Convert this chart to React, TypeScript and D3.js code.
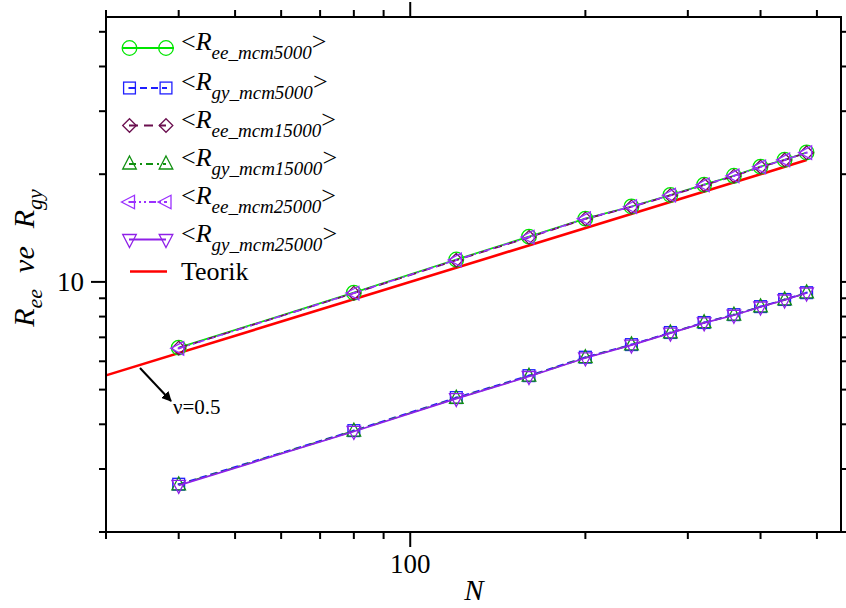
import React from "react";
import * as d3 from "d3";

// chain lengths
const chainN = [40, 80, 120, 160, 200, 240, 280, 320, 360, 400, 440, 480];

// end-to-end and gyration radii
const reeMcm5000 = [6.55, 9.33, 11.55, 13.38, 15.03, 16.25, 17.5, 18.7, 19.8, 21.0, 21.95, 23.0];
const gyMcm5000 = [2.72, 3.84, 4.75, 5.47, 6.16, 6.68, 7.22, 7.7, 8.1, 8.53, 8.93, 9.33];
const reeMcm15000 = [6.53, 9.3, 11.5, 13.32, 15.0, 16.2, 17.45, 18.65, 19.75, 20.95, 21.9, 22.95];
const gyMcm15000 = [2.71, 3.83, 4.73, 5.45, 6.14, 6.67, 7.2, 7.69, 8.08, 8.52, 8.91, 9.32];
const reeMcm25000 = [6.52, 9.31, 11.52, 13.35, 15.02, 16.22, 17.47, 18.68, 19.78, 20.97, 21.93, 22.97];
const gyMcm25000 = [2.7, 3.82, 4.72, 5.44, 6.13, 6.66, 7.19, 7.68, 8.07, 8.51, 8.9, 9.31];

// theory line nu = 0.5
const teorikN = [30, 480];
const teorikR = [5.48, 21.9];

const xTicks = [30, 40, 50, 60, 70, 80, 90, 100, 200, 300, 400, 500];
const yTicks = [2, 3, 4, 5, 6, 7, 8, 9, 10, 20, 30, 40, 50];
const xLabels = [100];
const yLabels = [10];

const series = [
  { sub: "ee_mcm5000", data: reeMcm5000, color: "#00e600", dash: null, marker: "circle" },
  { sub: "gy_mcm5000", data: gyMcm5000, color: "#1f1fff", dash: "7,4", marker: "square" },
  { sub: "ee_mcm15000", data: reeMcm15000, color: "#6b0f4f", dash: "9,6", marker: "diamond" },
  { sub: "gy_mcm15000", data: gyMcm15000, color: "#109010", dash: "7,4,2,4", marker: "up" },
  { sub: "ee_mcm25000", data: reeMcm25000, color: "#9b30ff", dash: "7,3,2,3,2,3", marker: "left" },
  { sub: "gy_mcm25000", data: gyMcm25000, color: "#8f20e8", dash: null, marker: "down" },
];

const W = 846;
const H = 608;
const L = 106, R = 841, T = 17, B = 532;
const font = "'Liberation Serif', 'Times New Roman', serif";

const Marker = ({ type, cx, cy, color }: any) => {
  const s = 6.8;
  const common = { fill: "none", stroke: color, strokeWidth: 1.3 };
  if (type === "circle") return <circle cx={cx} cy={cy} r={7.3} {...common} />;
  if (type === "square")
    return (
      <g>
        <rect x={cx - 5.9} y={cy - 5.9} width={11.8} height={11.8} {...common} />
        <rect x={cx - 1} y={cy - 1} width={2} height={2} fill={color} />
      </g>
    );
  if (type === "diamond")
    return <path d={`M${cx},${cy - s}L${cx + s},${cy}L${cx},${cy + s}L${cx - s},${cy}Z`} {...common} />;
  if (type === "up")
    return <path d={`M${cx},${cy - 8}L${cx + 6.8},${cy + 5}L${cx - 6.8},${cy + 5}Z`} {...common} />;
  if (type === "down")
    return <path d={`M${cx},${cy + 8}L${cx + 6.8},${cy - 5}L${cx - 6.8},${cy - 5}Z`} {...common} />;
  // left
  return (
    <g>
      <path d={`M${cx - 8},${cy}L${cx + 5},${cy - 6.8}L${cx + 5},${cy + 6.8}Z`} {...common} />
      <rect x={cx - 1} y={cy - 1} width={2} height={2} fill={color} />
    </g>
  );
};

export default function App() {
  const x = d3.scaleLog().domain([30, 550]).range([L, R]);
  const y = d3.scaleLog().domain([2, 55]).range([B, T]);

  const line = d3
    .line<number>()
    .x((d, i) => x(chainN[i]))
    .y((d) => y(d));

  const teorikLine = d3
    .line<number>()
    .x((d, i) => x(teorikN[i]))
    .y((d) => y(d));

  const legendY = [48, 88, 125.5, 164, 202, 239.5];

  return (
    <svg
      width={W}
      height={H}
      style={{ position: "absolute", left: 0, top: 0, background: "#fff" }}
      fontFamily={font}
    >
      {/* theory */}
      <path d={teorikLine(teorikR) || ""} fill="none" stroke="#ff0000" strokeWidth={2.6} />

      {/* data series */}
      {series.map((s) => (
        <g key={s.sub}>
          <path
            d={line(s.data) || ""}
            fill="none"
            stroke={s.color}
            strokeWidth={1.7}
            strokeDasharray={s.dash || undefined}
          />
          {s.data.map((v, i) => (
            <Marker key={i} type={s.marker} cx={x(chainN[i])} cy={y(v)} color={s.color} />
          ))}
        </g>
      ))}

      {/* frame */}
      <rect x={L} y={T} width={R - L} height={B - T} fill="none" stroke="#000" strokeWidth={2} />

      {/* x ticks bottom and top */}
      {xTicks.map((t) => {
        const major = xLabels.includes(t);
        const len = major ? 15 : 7;
        return (
          <g key={"x" + t}>
            <line x1={x(t)} x2={x(t)} y1={B} y2={B + len} stroke="#000" strokeWidth={2} />
            <line x1={x(t)} x2={x(t)} y1={T} y2={T - len} stroke="#000" strokeWidth={2} />
            {major && (
              <text x={x(t)} y={573} textAnchor="middle" fontSize={27}>
                {t}
              </text>
            )}
          </g>
        );
      })}

      {/* y ticks left and right */}
      {yTicks.map((t) => {
        const major = yLabels.includes(t);
        const len = major ? 15 : 7;
        return (
          <g key={"y" + t}>
            <line x1={L} x2={L - len} y1={y(t)} y2={y(t)} stroke="#000" strokeWidth={2} />
            <line x1={R} x2={R + len} y1={y(t)} y2={y(t)} stroke="#000" strokeWidth={2} />
            {major && (
              <text x={84} y={y(t) + 9} textAnchor="end" fontSize={27}>
                {t}
              </text>
            )}
          </g>
        );
      })}

      {/* axis titles */}
      <text x={474} y={600} textAnchor="middle" fontSize={29} fontStyle="italic">
        N
      </text>
      <text transform="translate(34,258) rotate(-90)" textAnchor="middle" fontSize={30} fontStyle="italic">
        <tspan>R</tspan>
        <tspan fontSize={22} dy={8}>ee</tspan>
        <tspan dy={-8} dx={16}>ve</tspan>
        <tspan dx={18}>R</tspan>
        <tspan fontSize={22} dy={8}>gy</tspan>
      </text>

      {/* annotation */}
      <defs>
        <marker id="arr" viewBox="0 0 10 10" refX={9} refY={5} markerWidth={5} markerHeight={5} orient="auto">
          <path d="M0,0L10,5L0,10Z" fill="#000" />
        </marker>
      </defs>
      <line x1={140} y1={368} x2={171} y2={401} stroke="#000" strokeWidth={2} markerEnd="url(#arr)" />
      <text x={173} y={414} fontSize={21}>
        ν=0.5
      </text>

      {/* legend */}
      {series.map((s, i) => {
        const cy = legendY[i];
        return (
          <g key={"lg" + s.sub}>
            <line
              x1={s.marker === "circle" ? 123 : 129}
              x2={s.marker === "circle" ? 174 : 166}
              y1={cy}
              y2={cy}
              stroke={s.color}
              strokeWidth={1.8}
              strokeDasharray={s.dash || undefined}
            />
            <Marker type={s.marker} cx={129.5} cy={cy} color={s.color} />
            <Marker type={s.marker} cx={166} cy={cy} color={s.color} />
            <text x={181} y={cy + 2} fontSize={26}>
              <tspan>&lt;</tspan>
              <tspan fontStyle="italic">R</tspan>
              <tspan fontStyle="italic" fontSize={19} dy={9}>
                {s.sub}
              </tspan>
              <tspan dy={-9}>&gt;</tspan>
            </text>
          </g>
        );
      })}
      <line x1={130} x2={167} y1={271.5} y2={271.5} stroke="#ff0000" strokeWidth={2.6} />
      <text x={181} y={280} fontSize={26}>
        Teorik
      </text>
    </svg>
  );
}
